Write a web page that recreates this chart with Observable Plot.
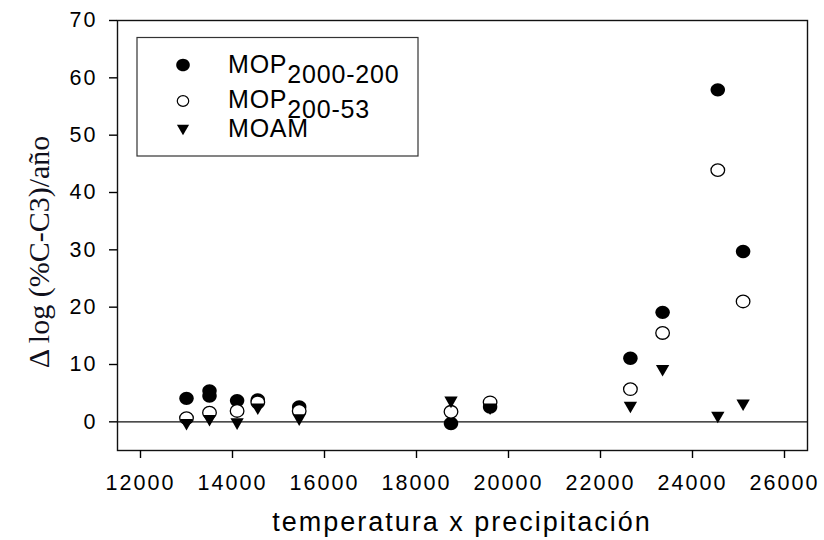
<!DOCTYPE html>
<html>
<head>
<meta charset="utf-8">
<script src="https://cdn.jsdelivr.net/npm/d3@7"></script>
<script src="https://cdn.jsdelivr.net/npm/@observablehq/plot@0.6"></script>
<style>
  html, body { margin: 0; padding: 0; background: #fff; }
  #chart { width: 824px; height: 540px; position: relative; }
  #chart svg g[aria-label="x-axis tick label"] text,
  #chart svg g[aria-label="y-axis tick label"] text { letter-spacing: 2px; }
</style>
</head>
<body>
<div id="chart"></div>
<script>
// Axis ticks
const xTicks = [12000, 14000, 16000, 18000, 20000, 22000, 24000, 26000];
const yTicks = [0, 10, 20, 30, 40, 50, 60, 70];

// MOP 2000-200 µm fraction
const tpMop2000 = [13000, 13500, 13500, 14100, 14550, 15450, 18750, 19600, 22650, 23350, 24550, 25100];
const mop2000   = [4.1, 5.4, 4.5, 3.7, 3.8, 2.6, -0.3, 2.6, 11.1, 19.1, 57.9, 29.7];

// MOP 200-53 µm fraction
const tpMop200 = [13000, 13500, 14100, 14550, 15450, 18750, 19600, 22650, 23350, 24550, 25100];
const mop200   = [0.65, 1.6, 1.9, 3.4, 1.9, 1.75, 3.4, 5.7, 15.5, 43.9, 21.0];

// Mineral-associated organic matter
const tpMoam = [13000, 13500, 14100, 14550, 15450, 18750, 19600, 22650, 23350, 24550, 25100];
const moam   = [-0.5, 0.2, -0.4, 2.2, 0.3, 3.4, 2.2, 2.5, 8.9, 0.75, 2.9];

// Legend entries: main label + subscript
const seriesLabels = ["MOP", "MOP", "MOAM"];
const seriesSubs   = ["2000-200", "200-53", ""];

const xLabel = "temperatura x precipitación";
const yLabel = "\u0394 log (%C-C3)/año";

// Slightly wide ellipse and a downward triangle as custom symbols
const ellipse = {
  draw(ctx, size) {
    const r = Math.sqrt(size / Math.PI), rx = r * 1.08, ry = r, k = 0.5523;
    ctx.moveTo(rx, 0);
    ctx.bezierCurveTo(rx, ry * k, rx * k, ry, 0, ry);
    ctx.bezierCurveTo(-rx * k, ry, -rx, ry * k, -rx, 0);
    ctx.bezierCurveTo(-rx, -ry * k, -rx * k, -ry, 0, -ry);
    ctx.bezierCurveTo(rx * k, -ry, rx, -ry * k, rx, 0);
    ctx.closePath();
  }
};
const triangleDown = {
  draw(ctx, size) {
    const r = Math.sqrt(size / Math.PI), w = r * 1.15, h = r;
    ctx.moveTo(-w, -h);
    ctx.lineTo(w, -h);
    ctx.lineTo(0, h);
    ctx.closePath();
  }
};

const rows = (xs, ys) => xs.map((x, i) => ({x, y: ys[i]}));

const chart = Plot.plot({
  width: 824,
  height: 540,
  marginLeft: 117,
  marginRight: 17,
  marginTop: 20,
  marginBottom: 90,
  x: {domain: [11500, 26500]},
  y: {domain: [-5, 70]},
  style: {fontFamily: "'Liberation Sans', Arial, sans-serif", fontSize: "21.5px", color: "#000", background: "#fff"},
  marks: [
    Plot.frame({stroke: "#111", strokeWidth: 1.4}),
    Plot.ruleY([0], {stroke: "#111", strokeWidth: 1.4}),
    Plot.axisX({ticks: xTicks, tickSize: 8, tickPadding: 16, tickFormat: d => String(d), label: null, strokeWidth: 1.4, fontSize: 21.5}),
    Plot.axisY({ticks: yTicks, tickSize: 8, tickPadding: 12, tickFormat: d => String(d), label: null, strokeWidth: 1.4, fontSize: 21.5}),
    Plot.dot(rows(tpMop2000, mop2000), {x: "x", y: "y", symbol: ellipse, r: 6.7, fill: "#000", stroke: "none"}),
    Plot.dot(rows(tpMop200, mop200), {x: "x", y: "y", symbol: ellipse, r: 6.3, fill: "#fff", stroke: "#000", strokeWidth: 1.3}),
    Plot.dot(rows(tpMoam, moam), {x: "x", y: "y", symbol: triangleDown, r: 5.8, fill: "#000", stroke: "none"})
  ]
});

document.getElementById("chart").appendChild(chart);

const svg = d3.select(chart);

// Axis titles
svg.append("text")
  .attr("transform", "translate(39,252) rotate(-90)")
  .attr("text-anchor", "middle")
  .attr("dy", "0.32em")
  .style("font-family", "'Liberation Serif', 'Times New Roman', serif")
  .style("font-size", "30px")
  .attr("fill", "#10101c")
  .text(yLabel);

svg.append("text")
  .attr("x", 462)
  .attr("y", 531)
  .attr("text-anchor", "middle")
  .style("font-size", "27px")
  .style("letter-spacing", "2px")
  .attr("fill", "#000")
  .text(xLabel);

// Legend
const legend = svg.append("g").attr("aria-label", "legend");
legend.append("rect")
  .attr("x", 137).attr("y", 37.5).attr("width", 281).attr("height", 118.5)
  .attr("fill", "#fff").attr("stroke", "#333").attr("stroke-width", 1.2);

const legendSymbols = [
  {sym: ellipse, r: 6.3, fill: "#000", stroke: "none", sw: 0},
  {sym: ellipse, r: 5.3, fill: "#fff", stroke: "#000", sw: 1.2},
  {sym: triangleDown, r: 5.3, fill: "#000", stroke: "none", sw: 0}
];
const legendY = [65, 101, 130];
const legendBase = [73, 108, 137];

seriesLabels.forEach((lab, i) => {
  const s = legendSymbols[i];
  legend.append("path")
    .attr("transform", `translate(183,${legendY[i]})`)
    .attr("d", d3.symbol(s.sym, Math.PI * s.r * s.r)())
    .attr("fill", s.fill).attr("stroke", s.stroke).attr("stroke-width", s.sw);
  const t = legend.append("text")
    .attr("x", 228).attr("y", legendBase[i])
    .attr("text-anchor", "start")
    .style("font-size", "25px")
    .style("letter-spacing", "0.8px")
    .attr("fill", "#000");
  t.append("tspan").text(lab);
  if (seriesSubs[i]) t.append("tspan").attr("dy", 10).text(seriesSubs[i]);
});
</script>
</body>
</html>
